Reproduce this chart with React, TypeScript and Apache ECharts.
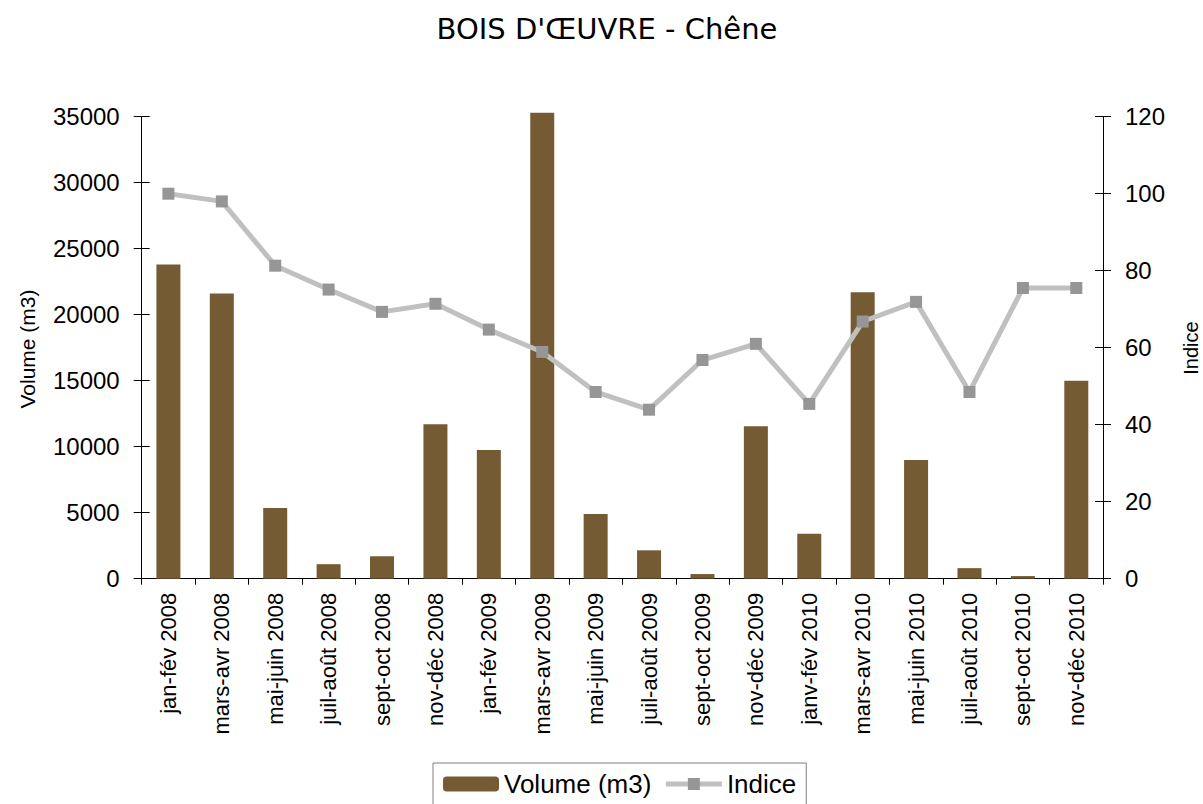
import React, { useEffect, useRef } from "react";
import * as echarts from "echarts";

const categories = [
  "jan-fév 2008", "mars-avr 2008", "mai-juin 2008", "juil-août 2008", "sept-oct 2008", "nov-déc 2008",
  "jan-fév 2009", "mars-avr 2009", "mai-juin 2009", "juil-août 2009", "sept-oct 2009", "nov-déc 2009",
  "janv-fév 2010", "mars-avr 2010", "mai-juin 2010", "juil-août 2010", "sept-oct 2010", "nov-déc 2010",
];
const volume = [23800, 21600, 5350, 1100, 1700, 11700, 9750, 35300, 4900, 2150, 350, 11550, 3400, 21700, 9000, 800, 200, 15000];
const indice = [100, 98, 81.3, 75.1, 69.3, 71.4, 64.7, 58.9, 48.5, 43.9, 56.8, 61.0, 45.4, 66.8, 71.9, 48.5, 75.5, 75.5];
const titleText = "BOIS D'ŒUVRE - Chêne";
const volumeName = "Volume (m3)";
const indiceName = "Indice";

const FONT = "Liberation Sans, Arial, sans-serif";

export default function App() {
  const ref = useRef<HTMLDivElement>(null);
  useEffect(() => {
    if (!ref.current) return;
    const chart = echarts.init(ref.current, null, { renderer: "svg" });
    const axisLine = { show: true, lineStyle: { color: "#000", width: 1 } };
    const plain = (v: number) => String(v);
    chart.setOption({
      animation: false,
      backgroundColor: "#fff",
      textStyle: { fontFamily: FONT, color: "#000" },
      grid: { left: 141.7, right: 100, top: 116.7, bottom: 225.3, containLabel: false },
      graphic: [
        {
          type: "text",
          x: 607,
          y: 29,
          style: {
            text: titleText,
            fill: "#000",
            font: "normal 29px 'DejaVu Sans', sans-serif",
            textAlign: "center",
            textVerticalAlign: "middle",
          },
        },
        {
          type: "text",
          x: 27,
          y: 349,
          rotation: Math.PI / 2,
          style: {
            text: volumeName,
            fill: "#000",
            font: "normal 21px 'Liberation Sans', Arial, sans-serif",
            textAlign: "center",
            textVerticalAlign: "middle",
          },
        },
        {
          type: "text",
          x: 1191,
          y: 348,
          rotation: Math.PI / 2,
          style: {
            text: indiceName,
            fill: "#000",
            font: "normal 20px 'Liberation Sans', Arial, sans-serif",
            textAlign: "center",
            textVerticalAlign: "middle",
          },
        },
      ],
      legend: {
        data: [
          { name: volumeName },
          {
            name: indiceName,
            lineStyle: { color: "#C0C0C0", width: 5 },
            itemStyle: { color: "#969696" },
          },
        ],
        left: 433,
        top: 763,
        padding: [8, 10, 10, 10],
        itemGap: 12,
        itemWidth: 56,
        itemHeight: 15,
        borderColor: "#808080",
        borderWidth: 1,
        textStyle: { fontSize: 26, fontFamily: FONT, color: "#000" },
      },
      xAxis: {
        type: "category",
        data: categories,
        axisLine,
        axisTick: { show: true, length: 6, lineStyle: { color: "#000" } },
        axisLabel: { rotate: 90, fontSize: 22, fontFamily: FONT, color: "#000", margin: 14, interval: 0 },
        splitLine: { show: false },
      },
      yAxis: [
        {
          type: "value",
          position: "left",
          min: 0,
          max: 35000,
          interval: 5000,
          axisLine,
          axisTick: { show: true, length: 8, lineStyle: { color: "#000" } },
          axisLabel: { fontSize: 24, fontFamily: FONT, color: "#000", margin: 22, formatter: plain },
          splitLine: { show: false },
        },
        {
          type: "value",
          position: "right",
          min: 0,
          max: 120,
          interval: 20,
          axisLine,
          axisTick: { show: true, length: 8, lineStyle: { color: "#000" } },
          axisLabel: { fontSize: 24, fontFamily: FONT, color: "#000", margin: 22, formatter: plain },
          splitLine: { show: false },
        },
        {
          type: "value",
          position: "left",
          min: 0,
          max: 35000,
          interval: 5000,
          axisLine: { show: false },
          axisTick: { show: true, inside: true, length: 8, lineStyle: { color: "#000" } },
          axisLabel: { show: false },
          splitLine: { show: false },
        },
        {
          type: "value",
          position: "right",
          min: 0,
          max: 120,
          interval: 20,
          axisLine: { show: false },
          axisTick: { show: true, inside: true, length: 8, lineStyle: { color: "#000" } },
          axisLabel: { show: false },
          splitLine: { show: false },
        },
      ],
      series: [
        {
          name: volumeName,
          type: "bar",
          yAxisIndex: 0,
          data: volume,
          barWidth: 24,
          clip: false,
          itemStyle: { color: "#755B34" },
        },
        {
          name: indiceName,
          type: "line",
          yAxisIndex: 1,
          data: indice,
          symbol: "rect",
          symbolSize: 12,
          lineStyle: { color: "#C0C0C0", width: 5 },
          itemStyle: { color: "#969696" },
          z: 3,
        },
      ],
    });
    return () => chart.dispose();
  }, []);
  return (
    <div
      ref={ref}
      style={{ position: "absolute", left: 0, top: 0, width: 1203, height: 804 }}
    />
  );
}
